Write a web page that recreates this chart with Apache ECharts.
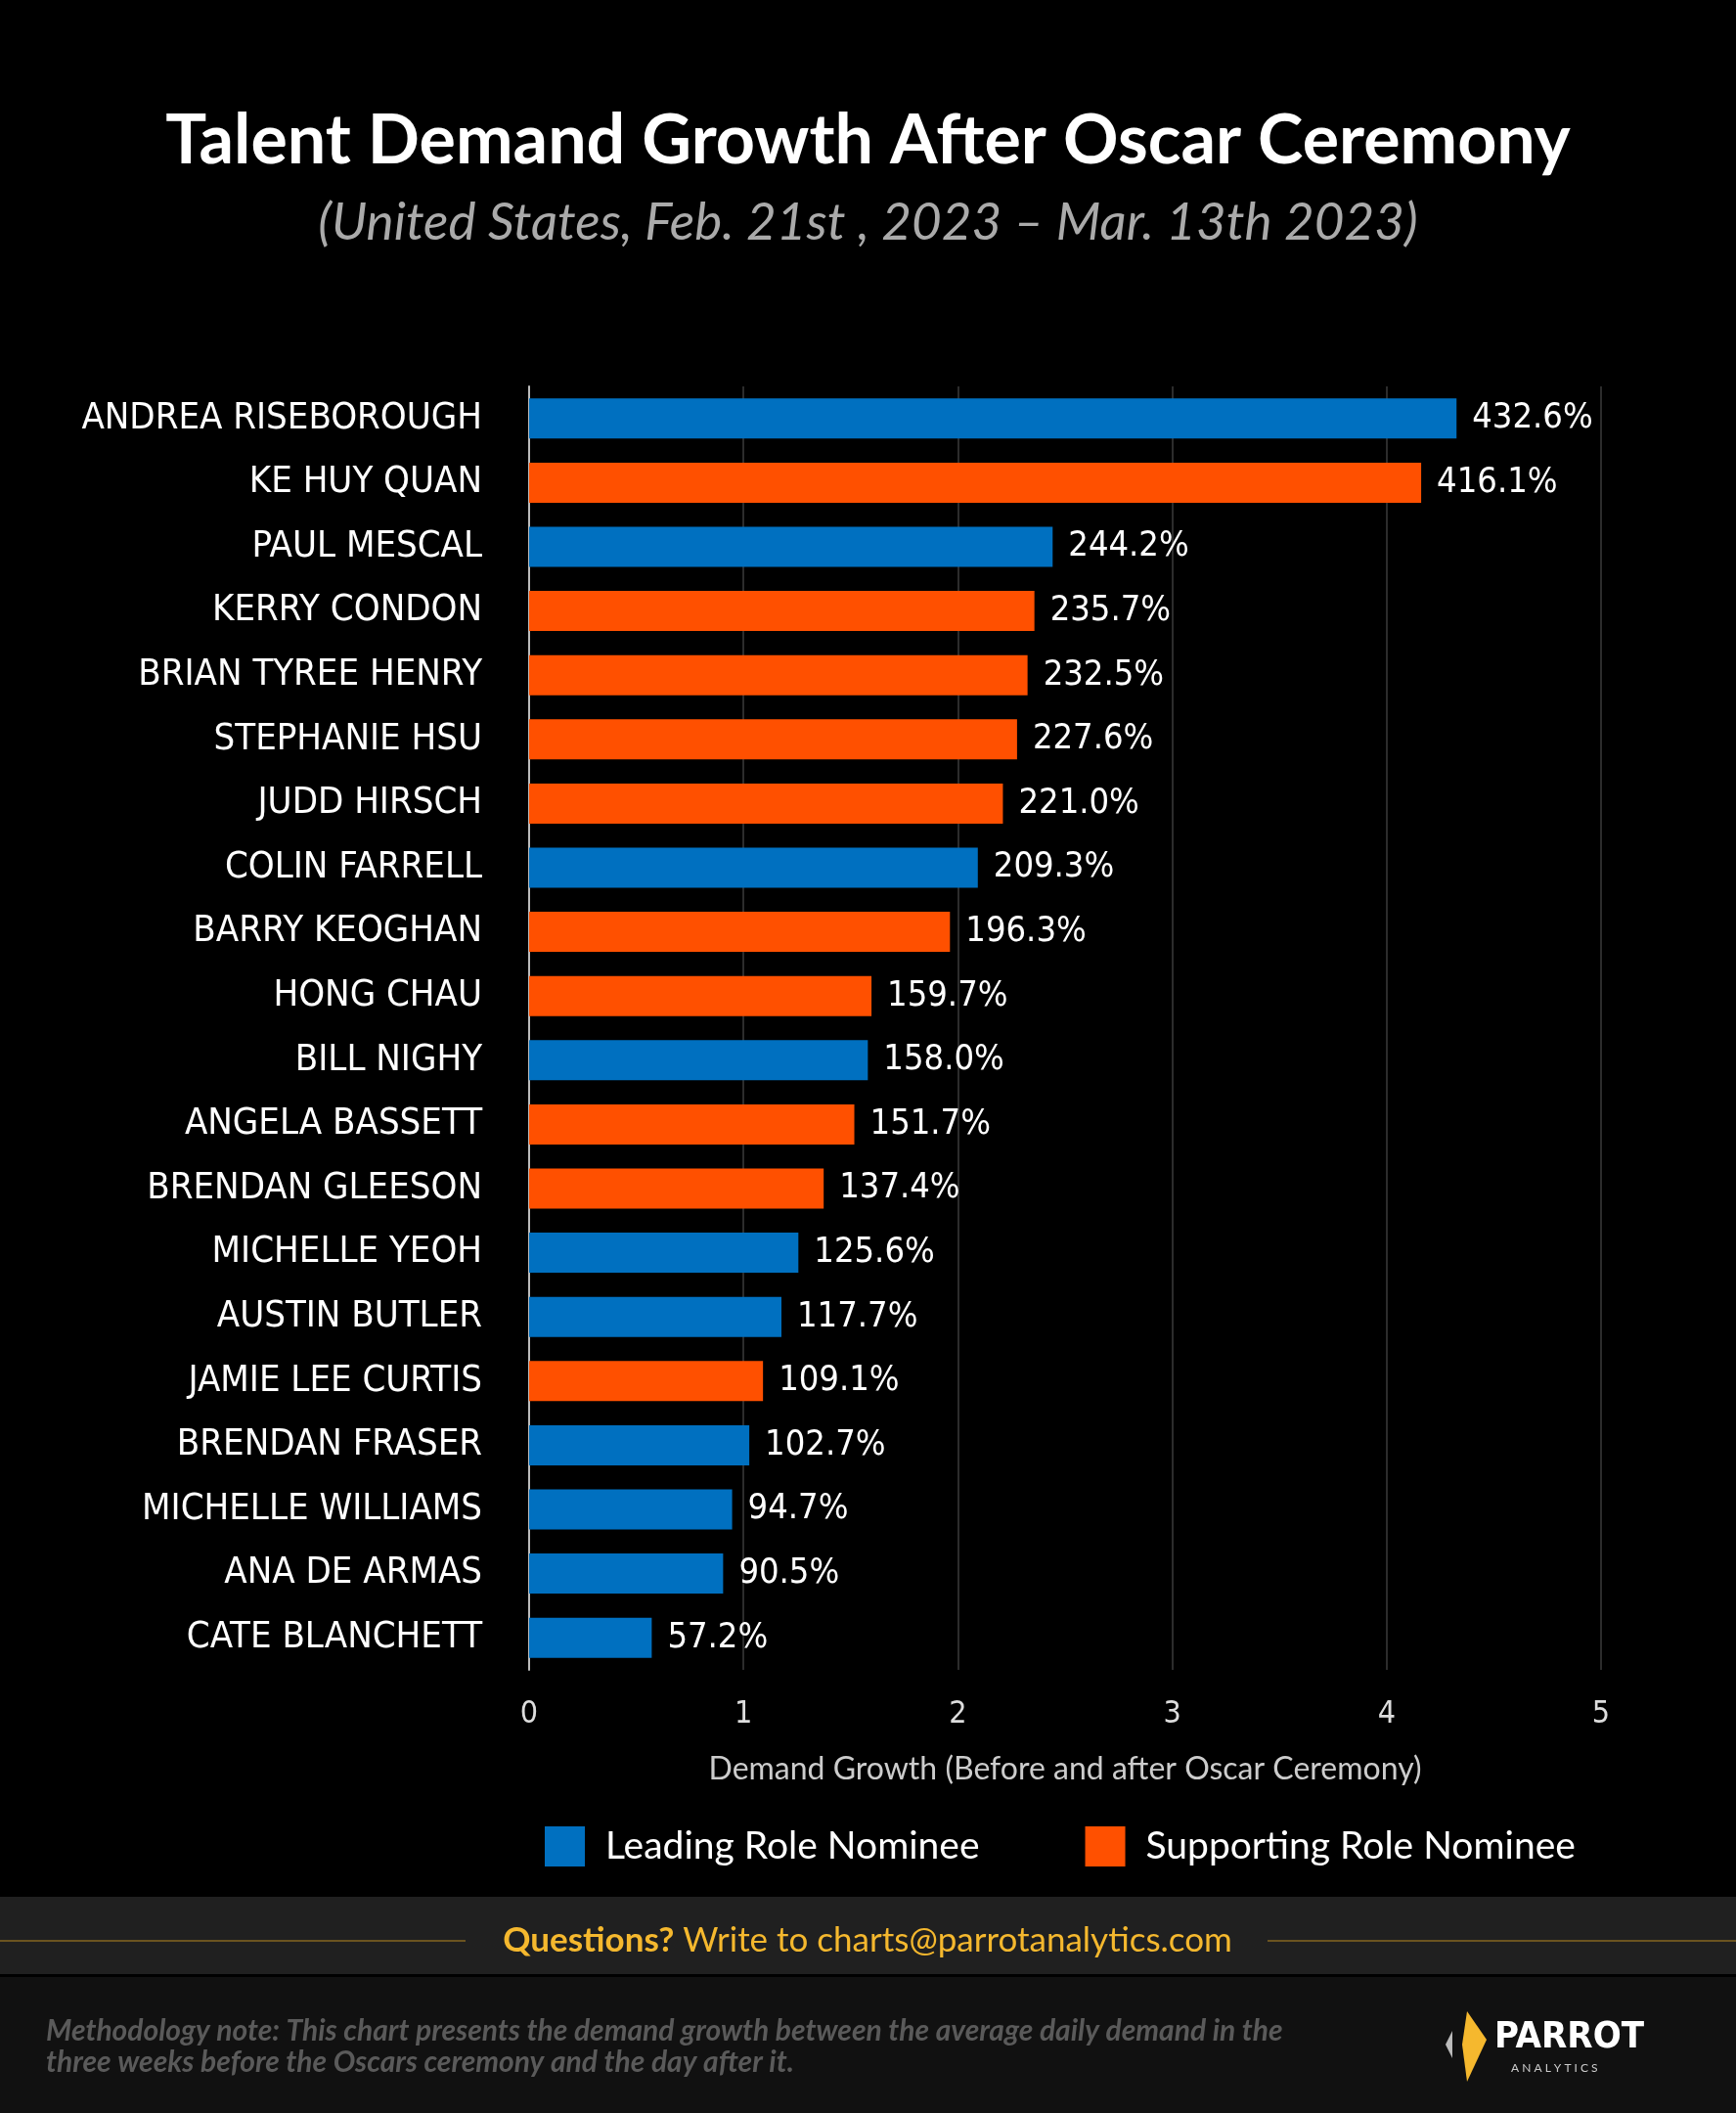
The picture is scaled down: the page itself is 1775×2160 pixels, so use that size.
<!DOCTYPE html>
<html>
<head>
<meta charset="utf-8">
<script src="https://cdn.jsdelivr.net/npm/echarts@6/dist/echarts.min.js"></script>
<style>
  html, body { margin: 0; padding: 0; background: #000; }
  #chart { width: 1775px; height: 2160px; }
</style>
</head>
<body>
<div id="chart"></div>
<script>
// data, top to bottom as drawn
const names = ['ANDREA RISEBOROUGH', 'KE HUY QUAN', 'PAUL MESCAL', 'KERRY CONDON', 'BRIAN TYREE HENRY',
  'STEPHANIE HSU', 'JUDD HIRSCH', 'COLIN FARRELL', 'BARRY KEOGHAN', 'HONG CHAU', 'BILL NIGHY',
  'ANGELA BASSETT', 'BRENDAN GLEESON', 'MICHELLE YEOH', 'AUSTIN BUTLER', 'JAMIE LEE CURTIS',
  'BRENDAN FRASER', 'MICHELLE WILLIAMS', 'ANA DE ARMAS', 'CATE BLANCHETT'];
const growth = [4.326, 4.161, 2.442, 2.357, 2.325, 2.276, 2.210, 2.093, 1.963, 1.597, 1.580,
  1.517, 1.374, 1.256, 1.177, 1.091, 1.027, 0.947, 0.905, 0.572];
const role = ['L', 'S', 'L', 'S', 'S', 'S', 'S', 'L', 'S', 'S', 'L',
  'S', 'S', 'L', 'L', 'S', 'L', 'L', 'L', 'L'];
const xTicks = [0, 1, 2, 3, 4, 5];

const BLUE = '#0070c0';
const ORANGE = '#ff5000';
const NARROW = '"Liberation Sans Narrow", "DejaVu Sans Condensed", "Roboto", sans-serif';
const SANS = '"Lato", "Noto Sans", sans-serif';

const chart = echarts.init(document.getElementById('chart'));

// split into two series so the legend works; bars stay on the same row
const leading = growth.map((v, i) => role[i] === 'L' ? v : '-');
const supporting = growth.map((v, i) => role[i] === 'S' ? v : '-');

const barShared = {
  type: 'bar',
  barWidth: 41,
  barGap: '-100%',
  label: {
    show: true,
    position: 'right',
    distance: 16,
    color: '#fff',
    fontFamily: NARROW,
    fontSize: 36,
    formatter: p => (p.value * 100).toFixed(1) + '%'
  }
};

const option = {
  backgroundColor: '#000',
  animation: false,
  title: [
    {
      text: 'Talent Demand Growth After Oscar Ceremony',
      left: 'center', top: 104,
      textStyle: { color: '#fff', fontSize: 70, fontWeight: 'bold', fontFamily: SANS }
    },
    {
      text: '(United States, Feb. 21st , 2023 – Mar. 13th 2023)',
      left: 'center', top: 196,
      textStyle: { color: '#aaa', fontSize: 53, fontStyle: 'italic', fontWeight: 'normal', fontFamily: SANS }
    }
  ],
  grid: { left: 541, right: 138, top: 395, height: 1312 },
  xAxis: {
    type: 'value',
    min: 0, max: 5, interval: 1,
    axisLabel: {
      color: '#ddd', fontSize: 32, fontFamily: NARROW, margin: 30,
      formatter: v => xTicks.includes(v) ? String(v) : ''
    },
    axisLine: { show: false },
    axisTick: { show: false },
    splitLine: { lineStyle: { color: '#2c2c2c', width: 2 } },
    name: 'Demand Growth (Before and after Oscar Ceremony)',
    nameLocation: 'middle',
    nameGap: 86,
    nameTextStyle: { color: '#ccc', fontSize: 32, fontFamily: SANS }
  },
  yAxis: {
    type: 'category',
    data: names,
    inverse: true,
    axisLine: { show: true, lineStyle: { color: '#bbb', width: 2 } },
    axisTick: { show: false },
    axisLabel: { color: '#fff', fontSize: 38, fontFamily: NARROW, margin: 48 }
  },
  legend: {
    top: 1862,
    left: 552,
    itemWidth: 41, itemHeight: 41,
    itemGap: 108,
    icon: 'rect',
    textStyle: { color: '#fff', fontSize: 39, fontFamily: SANS, padding: [0, 0, 0, 16] },
    data: ['Leading Role Nominee', 'Supporting Role Nominee']
  },
  series: [
    Object.assign({ name: 'Leading Role Nominee', data: leading, itemStyle: { color: BLUE } }, barShared),
    Object.assign({ name: 'Supporting Role Nominee', data: supporting, itemStyle: { color: ORANGE } }, barShared)
  ],
  graphic: [
    { type: 'rect', shape: { x: 0, y: 1939, width: 1775, height: 79 }, style: { fill: '#202020' } },
    { type: 'rect', shape: { x: 0, y: 2021, width: 1775, height: 139 }, style: { fill: '#111' } },
    { type: 'line', shape: { x1: 0, y1: 1984, x2: 476, y2: 1984 }, style: { stroke: '#6b5420', lineWidth: 2 } },
    { type: 'line', shape: { x1: 1296, y1: 1984, x2: 1775, y2: 1984 }, style: { stroke: '#6b5420', lineWidth: 2 } },
    {
      type: 'text', x: 887, y: 1984,
      style: {
        text: '{b|Questions?} Write to charts@parrotanalytics.com',
        align: 'center', verticalAlign: 'middle',
        fill: '#f5b82e', fontSize: 35, fontFamily: SANS,
        rich: { b: { fontWeight: 'bold', fontSize: 35, fill: '#f5b82e', fontFamily: SANS } }
      }
    },
    {
      type: 'text', x: 47, y: 2060,
      style: {
        text: 'Methodology note: This chart presents the demand growth between the average daily demand in the\nthree weeks before the Oscars ceremony and the day after it.',
        fill: '#5a5a5a', fontSize: 30, fontStyle: 'italic', fontWeight: 'bold', fontFamily: SANS, lineHeight: 32
      }
    },
    // logo
    { type: 'polygon', shape: { points: [[1500, 2056], [1520, 2085], [1500, 2128], [1495, 2090]] }, style: { fill: '#f5b82e' } },
    { type: 'polygon', shape: { points: [[1485, 2076], [1485, 2104], [1478, 2090]] }, style: { fill: '#bbb' } },
    { type: 'text', x: 1528, y: 2064, style: { text: 'PARROT', fill: '#fff', fontSize: 38, fontWeight: 'bold', fontFamily: NARROW } },
    { type: 'text', x: 1545, y: 2108, style: { text: 'A N A L Y T I C S', fill: '#ccc', fontSize: 12, fontFamily: SANS } }
  ]
};

chart.setOption(option);
</script>
</body>
</html>
